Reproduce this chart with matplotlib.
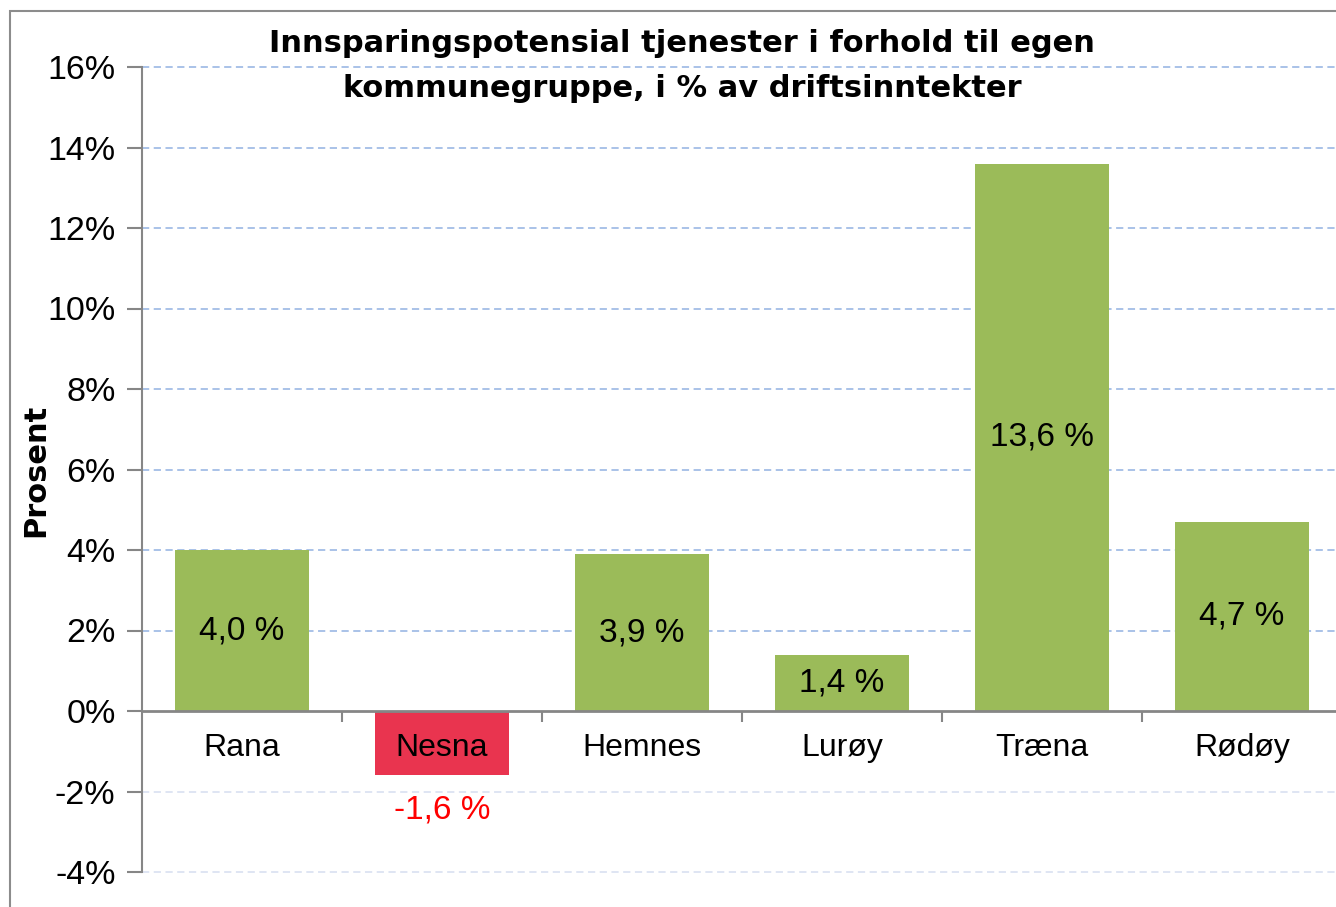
import matplotlib
matplotlib.use('Agg')
import matplotlib.pyplot as plt
from matplotlib.patches import Rectangle
from matplotlib.ticker import FixedLocator, FuncFormatter

plt.rcParams['font.family'] = ['Liberation Sans', 'DejaVu Sans']

kommuner = ['Rana', 'Nesna', 'Hemnes', 'Lurøy', 'Træna', 'Rødøy']
potensial = [4.0, -1.6, 3.9, 1.4, 13.6, 4.7]
etiketter = ['4,0 %', '-1,6 %', '3,9 %', '1,4 %', '13,6 %', '4,7 %']
yticks = [-4, -2, 0, 2, 4, 6, 8, 10, 12, 14, 16]

green = '#9BBB59'
red = '#E9344F'
grey = '#868686'

fig = plt.figure(figsize=(13.36, 9.07), dpi=100)
ax = fig.add_axes([142/1336, 1-872/907, 1200/1336, (872-67)/907])

# outer frame of the chart area
fig.add_artist(Rectangle((10/1336, -0.1), 1.2, 1-11/907+0.1, transform=fig.transFigure,
                         fill=False, edgecolor='#8c8c8c', linewidth=1.5))

# gridlines drawn by hand so they sit under the bars while tick labels stay on top
for t in yticks:
    if t == 0:
        continue
    ax.axhline(t, linestyle=(0, (4, 2.5)), linewidth=1.3, clip_on=False,
               color='#A3BDE6' if t > 0 else '#DCE3F2', zorder=0)

x = list(range(len(kommuner)))
colors = [green if v >= 0 else red for v in potensial]
ax.bar(x, potensial, width=0.67, color=colors, zorder=1)

for i, (v, lab) in enumerate(zip(potensial, etiketter)):
    if v >= 0:
        ax.text(i, v/2, lab, ha='center', va='center', fontsize=24, color='black', zorder=3)
    else:
        ax.text(i, v - 0.85, lab, ha='center', va='center', fontsize=24, color='#FF0000', zorder=3)

ax.set_xlim(-0.5, len(kommuner) - 0.5)
ax.set_ylim(-4, 16)

ax.yaxis.set_major_locator(FixedLocator(yticks))
ax.yaxis.set_major_formatter(FuncFormatter(lambda v, p: f'{int(v)}%'))
ax.tick_params(axis='y', labelsize=24.5, length=11, width=1.5, color=grey, pad=8)

ax.set_xticks(x)
ax.set_xticklabels(kommuner)
ax.set_xticks([i + 0.5 for i in x], minor=True)
ax.tick_params(axis='x', which='major', length=0, pad=16, labelsize=23)
ax.tick_params(axis='x', which='minor', length=8, width=1.5, color=grey)

ax.spines['top'].set_visible(False)
ax.spines['right'].set_visible(False)
ax.spines['left'].set_color(grey)
ax.spines['left'].set_linewidth(1.5)
ax.spines['bottom'].set_position(('data', 0))
ax.spines['bottom'].set_color(grey)
ax.spines['bottom'].set_linewidth(2)
ax.spines['bottom'].set_zorder(4)

ax.set_ylabel('Prosent', fontsize=22, fontweight='bold', family='DejaVu Sans')
ax.yaxis.set_label_coords(-92/1200, (872-470)/805)

fig.text(682/1336, 1-66/907, 'Innsparingspotensial tjenester i forhold til egen\nkommunegruppe, i % av driftsinntekter',
         ha='center', va='center', fontsize=22, fontweight='bold', family='DejaVu Sans',
         linespacing=1.7)

fig.savefig('out.png', dpi=100)
